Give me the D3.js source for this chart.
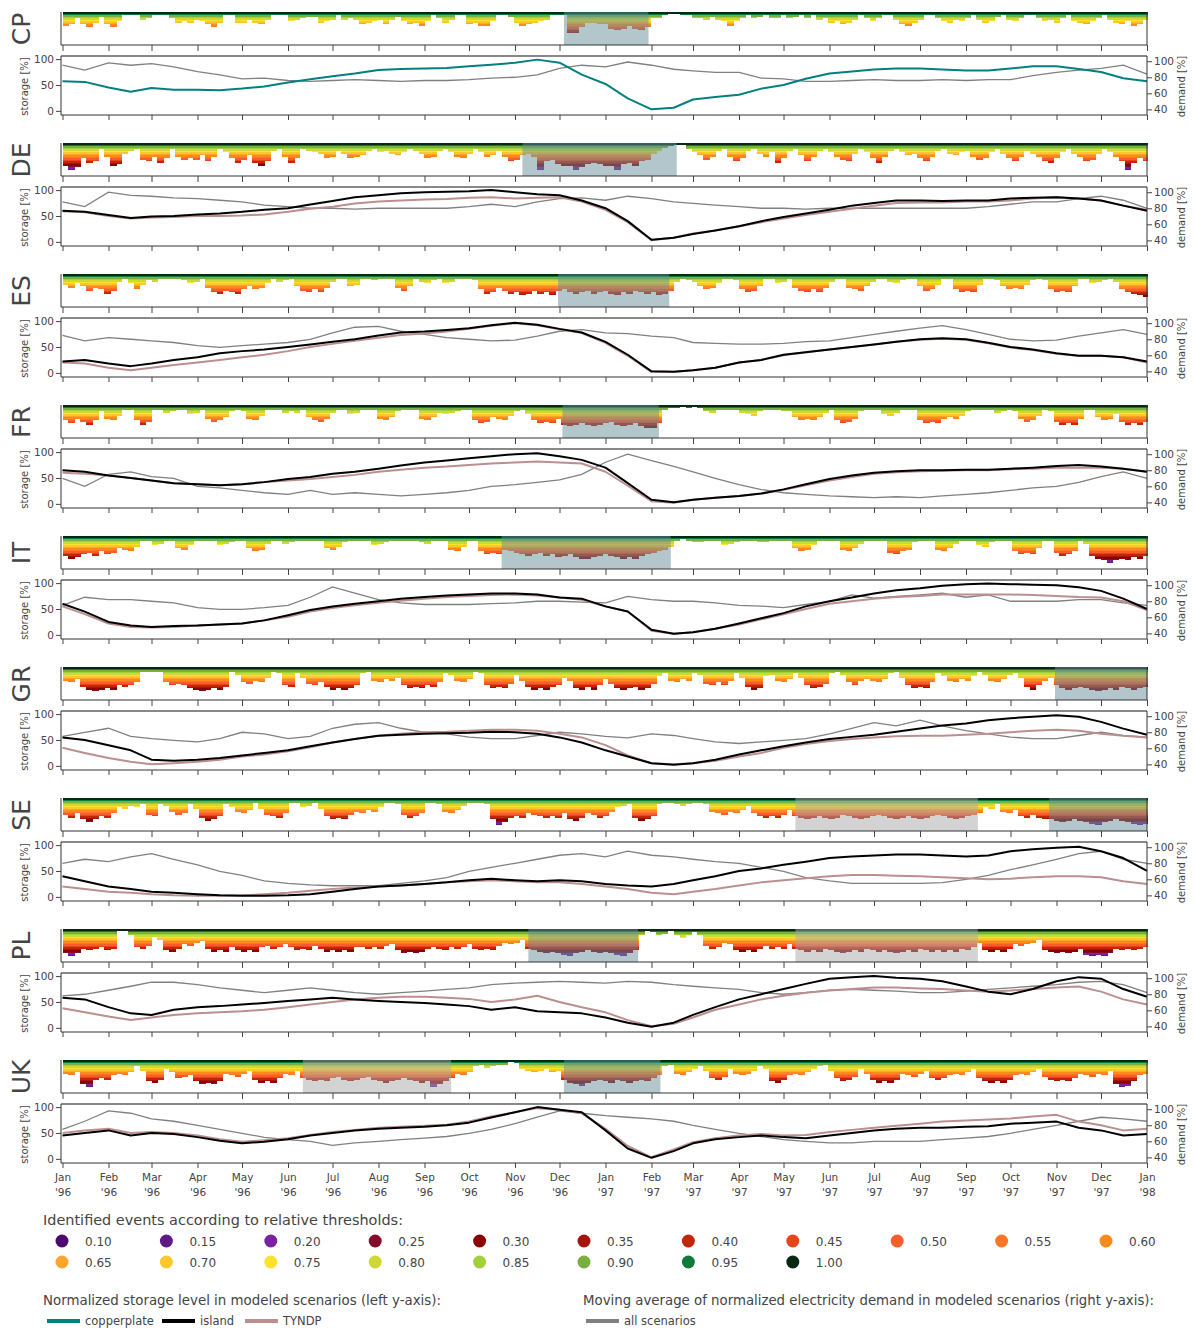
<!DOCTYPE html>
<html>
<head>
<meta charset="utf-8">
<script src="https://cdn.jsdelivr.net/npm/d3@7"></script>
<style>
  body { margin: 0; background: #fff; }
  text { font-family: "DejaVu Sans", Verdana, sans-serif; }
</style>
</head>
<body>
<svg id="chart" width="1194" height="1329"></svg>
<script>
// ---- regions and event thresholds ----
const regions = ["CP", "DE", "ES", "FR", "IT", "GR", "SE", "PL", "UK"];
const thresholdLevels = [10, 15, 20, 25, 30, 35, 40, 45, 50, 55, 60, 65, 70, 75, 80, 85, 90, 95, 100];
const thresholdColors = ["#4b0a6e", "#5e1a87", "#7a22a0", "#830d2b", "#8b0000", "#a51505", "#c42504",
  "#e8441a", "#fa5c2e", "#fe7728", "#fe8a1c", "#ffa52e", "#ffc72c", "#ffe12e", "#d0d834", "#a2d038",
  "#7ab040", "#0e7a3c", "#042a14"];

// storage and demand are sampled on the 1st and 16th of each month
const sampleDates = ["1996-01-01","1996-01-16","1996-02-01","1996-02-16","1996-03-01","1996-03-16",
  "1996-04-01","1996-04-16","1996-05-01","1996-05-16","1996-06-01","1996-06-16","1996-07-01","1996-07-16",
  "1996-08-01","1996-08-16","1996-09-01","1996-09-16","1996-10-01","1996-10-16","1996-11-01","1996-11-16",
  "1996-12-01","1996-12-16","1997-01-01","1997-01-16","1997-02-01","1997-02-16","1997-03-01","1997-03-16",
  "1997-04-01","1997-04-16","1997-05-01","1997-05-16","1997-06-01","1997-06-16","1997-07-01","1997-07-16",
  "1997-08-01","1997-08-16","1997-09-01","1997-09-16","1997-10-01","1997-10-16","1997-11-01","1997-11-16",
  "1997-12-01","1997-12-16","1998-01-01"];

// event depth: lowest relative threshold (%) flagged in each 4-day bin starting 1996-01-01
const eventBinDays = 4;

const cpEvents = [60,65,85,65,55,70,90,65,55,75,95,95,95,80,85,95,95,95,85,70,75,70,80,75,65,55,70,95,95,70,
  70,80,70,65,80,95,95,95,75,80,85,90,90,70,75,80,95,80,85,80,65,70,75,80,65,80,90,75,65,70,
  60,75,95,85,70,80,95,95,65,70,60,60,75,95,95,90,70,60,65,70,75,80,95,95,95,35,35,55,70,70,
  65,65,50,45,50,60,50,45,55,85,85,95,100,100,95,95,85,85,80,90,80,75,60,75,85,95,85,90,95,85,
  85,95,85,90,95,85,95,80,85,70,75,65,70,80,95,85,75,85,95,95,80,65,60,70,80,95,95,85,75,70,
  80,75,85,95,80,70,75,90,95,80,75,85,95,95,85,75,80,70,85,95,75,70,65,75,85,95,80,70,65,75,
  60,65,80];
const cpCopperplate = [57,56,45,37,44,41,41,40,43,47,55,61,67,72,79,81,82,83,86,89,93,99,93,70,
  52,24,3,6,22,27,31,43,50,62,72,76,80,82,82,80,78,78,82,86,86,81,75,63,57];
const cpDemand = [95,89,98,95,97,93,87,83,78,79,76,75,76,77,76,75,76,76,77,79,80,83,91,95,
  93,99,95,90,88,86,86,79,78,75,75,76,77,76,76,77,76,77,77,82,86,89,91,95,84];

const deEvents = [30,15,25,55,40,45,85,60,30,35,70,80,85,50,45,60,40,55,85,60,50,55,50,65,45,60,85,75,55,40,
  50,65,40,30,45,80,85,60,40,55,85,80,75,70,55,60,80,70,55,60,65,80,85,75,80,70,65,75,85,80,
  70,55,60,80,85,75,60,55,70,85,75,60,65,80,60,45,50,65,70,60,15,45,50,35,30,30,15,25,35,40,
  35,30,30,15,35,40,30,45,50,70,80,90,95,100,100,85,75,65,50,60,80,85,60,45,55,80,85,70,60,75,
  40,55,80,85,65,45,60,80,85,75,60,50,45,70,85,75,55,40,60,80,85,75,65,70,55,45,60,80,85,70,
  65,75,80,60,50,55,75,85,70,55,45,60,80,70,60,45,40,55,75,85,70,60,45,50,70,85,75,60,45,15,
  40,55,45];
const deIsland = [60,58,52,46,49,50,53,55,58,62,65,72,79,86,90,94,96,97,98,100,96,92,90,80,
  65,40,4,8,15,22,30,40,48,55,62,70,75,80,80,79,80,80,84,85,86,84,80,70,60];
const deTyndp = [59,57,50,45,47,48,50,50,51,53,58,64,68,74,78,80,82,83,85,86,84,85,86,78,
  62,38,3,8,16,22,30,38,45,52,58,64,70,75,76,76,78,78,80,84,86,84,80,70,62];
const deDemand = [88,82,100,96,95,93,92,90,88,84,82,80,80,79,80,80,80,80,82,85,82,88,92,93,
  90,95,92,88,86,84,82,80,80,79,80,80,80,80,80,80,80,82,85,88,88,92,95,90,80];

const esEvents = [70,60,75,65,50,60,55,40,50,80,90,75,55,70,85,80,90,90,90,90,85,75,80,90,60,45,40,50,45,40,
  55,65,55,60,75,90,80,85,90,65,50,45,55,45,60,80,90,90,65,70,90,90,85,90,90,90,60,50,65,90,
  80,75,85,90,75,80,90,90,90,85,55,40,45,60,50,40,45,35,40,50,40,45,35,50,55,45,40,45,50,40,
  45,50,40,35,45,40,50,45,40,45,35,40,50,80,90,85,80,65,55,60,75,90,90,85,55,45,50,65,90,90,
  75,80,90,60,50,45,55,45,60,80,90,90,60,55,50,65,80,90,90,80,75,85,90,90,65,50,55,70,90,90,
  55,45,50,45,70,90,90,85,65,55,60,55,70,85,90,85,55,45,50,45,65,90,90,75,80,85,90,80,55,45,
  40,35,30];
const esIsland = [22,25,18,13,18,25,30,38,42,45,50,55,60,65,72,78,80,83,86,92,97,93,85,78,
  60,35,3,2,5,10,20,25,35,40,45,50,55,60,65,67,65,58,50,45,38,33,33,30,22];
const esTyndp = [20,18,10,5,10,15,20,25,30,35,42,50,56,62,68,73,76,80,85,91,96,92,84,77,
  58,33,2,2,5,10,20,25,34,40,45,50,55,60,64,66,64,57,49,44,37,33,33,30,20];
const esDemand = [85,78,82,80,78,76,72,70,72,74,76,80,88,95,96,90,86,82,80,78,79,84,90,92,
  88,87,84,82,76,75,74,74,75,77,78,82,86,90,94,97,92,86,80,78,79,84,88,92,86];

const frEvents = [55,45,60,50,40,55,85,60,55,70,90,90,55,40,50,90,90,80,85,90,90,75,80,90,60,50,55,65,85,90,
  85,60,55,70,90,90,90,80,85,80,90,65,55,50,60,80,90,90,75,80,90,90,90,60,55,65,85,90,90,90,
  60,55,65,80,75,80,85,90,90,55,45,50,65,60,55,70,85,90,75,55,45,50,45,60,40,35,40,45,40,35,
  40,45,50,40,35,40,45,35,30,30,45,90,95,95,100,95,100,95,85,80,90,90,90,90,80,75,70,85,90,90,
  90,85,85,65,55,60,55,65,80,90,55,45,50,60,85,90,90,90,75,70,80,90,90,90,55,45,50,45,60,65,
  60,70,85,90,90,90,90,80,85,90,85,60,50,55,70,90,85,50,40,45,40,60,90,90,65,55,60,75,50,40,
  45,40,50];
const frIsland = [65,62,55,50,45,40,38,36,38,42,48,52,58,62,68,74,80,84,88,92,96,98,92,85,
  70,40,8,3,8,12,15,20,28,38,48,55,60,63,65,65,66,66,68,70,73,75,72,68,62];
const frTyndp = [60,58,55,50,45,40,38,36,38,42,45,48,52,56,62,66,70,72,75,78,80,82,80,78,
  62,35,5,2,8,12,15,20,27,36,45,52,58,61,63,64,65,65,67,68,70,70,70,68,62];
const frDemand = [70,60,75,78,72,70,60,58,55,52,50,55,50,52,50,48,50,52,55,60,62,65,68,75,
  90,100,92,85,78,70,62,56,52,50,48,47,46,47,46,48,50,52,55,58,60,65,72,78,70];

const itEvents = [40,30,35,45,50,40,55,45,50,65,60,55,70,90,90,75,80,90,90,65,60,75,90,90,90,90,75,80,85,90,
  90,65,55,60,80,90,90,80,85,90,90,90,90,90,65,60,70,85,90,90,90,90,75,80,85,90,90,90,90,90,
  85,80,90,90,90,60,55,70,90,90,55,45,50,45,60,55,50,45,40,45,50,40,45,35,40,45,35,30,30,35,
  40,45,40,35,30,35,30,40,45,50,55,60,70,90,95,90,85,85,90,90,90,75,80,85,90,90,90,85,85,90,
  90,90,90,65,55,60,75,90,90,90,90,60,55,65,80,90,90,90,90,50,45,55,60,85,90,90,90,60,55,65,
  80,90,90,90,75,70,85,90,90,90,55,45,50,45,65,90,90,50,40,45,55,90,80,40,30,25,15,25,30,25,
  35,30,40];
const itIsland = [60,45,25,18,15,17,18,20,22,28,38,48,55,60,65,70,73,76,78,80,80,78,72,70,
  55,45,10,2,5,12,22,32,42,55,65,72,80,86,90,95,98,99,98,97,96,92,85,70,50];
const itTyndp = [55,40,22,15,14,15,18,20,22,28,35,45,52,57,62,66,70,73,75,77,78,76,72,68,
  55,45,8,2,5,12,20,30,40,50,60,65,70,73,75,78,78,78,78,77,75,73,72,65,48];
const itDemand = [75,85,82,82,80,78,72,70,70,72,75,85,98,90,82,78,76,76,76,77,78,80,80,79,
  78,86,82,80,80,78,75,74,72,76,80,88,84,86,88,90,85,88,80,80,80,82,82,78,75];

const grEvents = [60,55,65,40,30,25,30,35,30,45,40,45,55,90,90,90,90,55,45,50,45,35,30,25,30,35,30,40,90,80,
  55,50,60,55,70,90,85,45,40,85,70,50,45,55,40,30,35,30,35,45,85,90,60,55,65,60,70,45,35,40,
  35,45,40,55,85,80,60,55,65,90,85,45,35,40,35,50,80,60,40,30,35,30,40,45,70,60,35,30,40,30,
  45,65,50,35,30,35,40,30,35,50,75,85,60,55,65,60,85,80,50,45,55,45,60,85,70,40,30,35,75,80,
  60,55,65,85,70,45,35,40,50,85,90,80,55,45,60,65,60,55,65,85,90,70,45,35,40,35,55,85,75,60,
  55,65,60,75,90,80,60,55,65,80,85,70,40,30,45,60,70,45,35,30,35,40,35,30,25,30,35,30,40,35,
  30,35,40];
const grIsland = [55,50,40,30,12,10,12,15,20,25,30,38,45,52,58,60,62,63,64,66,65,62,55,45,
  30,18,5,2,5,12,22,30,38,45,52,56,60,66,72,78,82,88,92,95,98,95,85,72,60];
const grTyndp = [35,25,15,8,3,5,8,12,18,22,28,36,45,52,58,62,65,66,68,70,70,68,62,55,
  40,20,5,3,5,10,18,25,35,42,48,52,55,57,58,58,60,62,65,68,70,68,62,58,55];
const grDemand = [75,80,85,75,72,70,68,72,80,78,72,75,85,90,92,85,80,78,74,72,72,76,80,78,
  75,73,78,76,72,68,66,68,70,72,78,85,92,88,95,88,82,78,74,72,72,76,80,76,74];

const seEvents = [50,40,55,35,25,35,45,40,55,75,70,80,75,85,50,45,85,80,60,50,55,85,70,40,30,35,45,85,75,60,
  55,65,90,70,50,45,40,55,90,90,75,80,90,70,45,35,40,35,50,60,55,65,60,75,90,90,85,50,40,45,
  55,90,90,85,60,55,65,80,90,90,90,85,35,15,25,40,45,40,55,50,45,40,45,40,55,35,30,40,55,50,
  40,45,60,75,80,85,40,30,35,45,85,90,90,85,80,85,90,90,85,60,55,50,60,55,65,80,55,45,40,45,
  40,50,65,45,40,35,40,45,40,35,40,50,45,40,35,40,45,50,45,40,35,40,45,40,35,40,45,50,45,40,
  35,40,45,50,55,75,70,85,60,55,65,45,40,50,40,35,35,30,25,30,35,30,25,20,15,25,30,35,30,25,
  20,15,20];
const seIsland = [40,30,20,15,10,8,5,3,2,2,3,5,10,15,20,22,25,28,32,35,32,30,32,30,
  25,22,20,25,32,40,50,55,62,68,75,78,80,82,82,80,78,80,88,92,95,97,88,75,50];
const seTyndp = [20,15,10,8,5,3,2,2,3,5,8,12,15,18,20,22,25,28,30,32,30,28,28,25,
  20,15,8,5,10,15,22,28,32,36,40,42,42,41,40,38,36,34,35,38,40,40,38,30,25];
const seDemand = [80,85,82,88,92,85,78,70,65,58,55,53,52,52,52,55,58,62,70,75,80,85,90,92,
  88,95,90,88,85,82,80,75,70,62,58,55,55,55,55,56,60,65,72,78,85,92,95,85,80];

const plEvents = [25,15,25,40,35,40,45,35,40,100,100,85,45,40,50,80,70,35,30,40,55,50,60,65,40,30,35,30,45,35,
  30,35,30,45,50,40,45,55,45,35,40,35,50,40,30,35,30,35,30,45,45,40,45,40,50,55,35,25,30,25,
  30,40,45,40,35,45,40,45,55,40,35,40,35,50,60,55,60,70,40,35,30,25,30,25,20,15,25,30,35,30,
  25,30,25,20,15,25,35,85,100,95,85,90,100,85,75,85,95,85,50,40,45,60,55,35,30,35,30,40,50,40,
  45,40,55,40,35,30,35,30,40,35,30,25,30,35,30,40,35,30,35,30,25,30,35,30,40,35,30,35,30,35,
  30,40,35,45,60,35,30,35,30,40,55,50,55,60,70,35,30,25,30,25,30,40,20,15,20,15,25,40,35,40,
  35,40,45];
const plIsland = [58,55,40,28,25,35,40,42,45,48,52,55,58,55,52,50,48,45,42,35,40,32,30,28,
  20,10,2,10,25,40,55,65,75,85,95,98,100,97,95,90,80,70,65,75,90,98,95,75,60];
const plTyndp = [38,30,22,15,20,25,28,30,32,35,40,45,50,55,58,60,60,58,56,50,55,62,50,40,
  30,15,3,8,20,35,45,55,62,68,72,75,78,78,76,75,72,70,72,75,78,80,70,55,45];
const plDemand = [78,80,85,90,95,95,92,88,85,82,85,88,85,82,80,82,84,86,88,92,94,95,96,95,
  94,96,95,92,90,88,86,82,80,82,85,86,85,84,82,82,84,86,88,90,92,95,96,92,82];

const ukEvents = [60,55,65,25,15,40,45,40,55,60,55,65,85,70,35,30,40,75,65,45,50,55,35,25,30,25,35,60,55,50,
  60,70,40,30,35,30,45,60,55,70,45,40,35,40,35,45,50,40,35,40,45,50,40,35,30,35,40,45,40,35,
  30,35,15,25,35,45,60,55,65,85,90,80,85,90,90,100,95,75,70,65,70,75,65,70,40,30,25,20,30,35,
  40,35,30,40,35,30,35,40,35,45,55,85,90,60,55,65,75,85,70,45,40,50,75,60,55,60,70,85,75,35,
  30,40,55,60,55,65,75,85,90,70,45,35,40,50,75,60,40,30,35,30,40,60,55,50,60,70,45,40,45,55,
  60,55,65,75,45,35,30,35,30,40,55,60,55,65,75,50,40,35,40,35,45,60,55,50,60,55,70,25,15,20,
  35,55,60];
const ukIsland = [45,50,55,45,50,48,42,35,30,33,38,45,50,55,58,60,62,65,70,80,90,100,95,90,
  55,20,2,15,30,38,42,45,42,40,45,50,55,58,60,60,62,63,68,70,72,60,55,45,48];
const ukTyndp = [50,55,58,50,52,50,45,38,33,36,40,46,52,56,60,62,64,66,72,82,90,98,95,88,
  58,25,3,18,32,40,45,48,45,46,52,56,60,64,68,72,74,76,78,82,85,72,65,55,58];
const ukDemand = [75,85,98,95,88,85,80,75,70,65,62,60,55,58,60,62,64,66,70,75,82,90,98,95,
  92,90,88,85,80,75,70,66,62,60,58,58,60,60,60,62,64,66,70,75,80,85,90,88,85];

// highlighted periods drawn over the event strips
const shadedPeriods = [
  ["CP", "1996-12-04", "1997-01-30", "blue"],
  ["DE", "1996-11-06", "1997-02-18", "blue"],
  ["ES", "1996-11-30", "1997-02-13", "blue"],
  ["FR", "1996-12-03", "1997-02-06", "blue"],
  ["IT", "1996-10-23", "1997-02-14", "blue"],
  ["GR", "1997-10-31", "1998-01-01", "blue"],
  ["SE", "1997-05-09", "1997-09-09", "grey"],
  ["SE", "1997-10-27", "1998-01-01", "blue"],
  ["PL", "1996-11-10", "1997-01-23", "blue"],
  ["PL", "1997-05-09", "1997-09-09", "grey"],
  ["UK", "1996-06-11", "1996-09-19", "grey"],
  ["UK", "1996-12-04", "1997-02-07", "blue"]
];

const scenarioColors = { copperplate: "#008080", island: "#000000", TYNDP: "#bc8f8f" };
const demandColor = "#808080";

const regionData = {
  CP: { events: cpEvents, demand: cpDemand, storage: [["copperplate", cpCopperplate]] },
  DE: { events: deEvents, demand: deDemand, storage: [["TYNDP", deTyndp], ["island", deIsland]] },
  ES: { events: esEvents, demand: esDemand, storage: [["TYNDP", esTyndp], ["island", esIsland]] },
  FR: { events: frEvents, demand: frDemand, storage: [["TYNDP", frTyndp], ["island", frIsland]] },
  IT: { events: itEvents, demand: itDemand, storage: [["TYNDP", itTyndp], ["island", itIsland]] },
  GR: { events: grEvents, demand: grDemand, storage: [["TYNDP", grTyndp], ["island", grIsland]] },
  SE: { events: seEvents, demand: seDemand, storage: [["TYNDP", seTyndp], ["island", seIsland]] },
  PL: { events: plEvents, demand: plDemand, storage: [["TYNDP", plTyndp], ["island", plIsland]] },
  UK: { events: ukEvents, demand: ukDemand, storage: [["TYNDP", ukTyndp], ["island", ukIsland]] }
};

// ---- drawing ----
const svg = d3.select("#chart");
const parse = d3.utcParse("%Y-%m-%d");
const t0 = Date.UTC(1996, 0, 1), t1 = Date.UTC(1998, 0, 1);
const DAY = 86400000;
const x = d3.scaleUtc().domain([new Date(t0), new Date(t1)]).range([62.5, 1147]);
const plotLeft = 61, plotRight = 1147;
const monthTicks = d3.utcMonths(new Date(t0), new Date(t1 + DAY));
const dates = sampleDates.map(parse);
const colorOf = d3.scaleOrdinal().domain(thresholdLevels).range(thresholdColors);
const bandOrder = thresholdLevels.slice().reverse();

const ROW = 131, TOP0 = 12;
const tickColor = "#444";

regions.forEach((reg, k) => {
  const d = regionData[reg];
  const top = TOP0 + ROW * k;
  const stripBottom = top + 33;
  const g = svg.append("g");

  // event strip: one stacked column per bin, from 1.00 down to the lowest flagged threshold
  const yBand = d3.scaleBand().domain(bandOrder).range([top, top + 28.5]);
  const cells = [];
  d.events.forEach((depth, i) => {
    const a = new Date(t0 + i * eventBinDays * DAY);
    const b = new Date(Math.min(t1, t0 + (i + 1) * eventBinDays * DAY));
    if (+a >= t1) return;
    bandOrder.forEach(level => { if (level >= depth) cells.push({ a, b, level }); });
  });
  g.append("g").attr("shape-rendering", "crispEdges")
    .selectAll("rect").data(cells).join("rect")
    .attr("x", c => x(c.a))
    .attr("width", c => x(c.b) - x(c.a) + 0.6)
    .attr("y", c => yBand(c.level))
    .attr("height", yBand.bandwidth() + 0.4)
    .attr("fill", c => colorOf(c.level));

  // highlighted periods
  g.append("g").selectAll("rect")
    .data(shadedPeriods.filter(p => p[0] === reg)).join("rect")
    .attr("x", p => x(parse(p[1])))
    .attr("width", p => x(parse(p[2])) - x(parse(p[1])))
    .attr("y", top)
    .attr("height", stripBottom - top)
    .attr("fill", p => p[3] === "blue" ? "#658d99" : "#a8a8a8")
    .attr("fill-opacity", 0.5);

  // strip frame and month ticks
  g.append("path")
    .attr("d", `M${plotLeft},${top}V${stripBottom}H${plotRight}V${top}`)
    .attr("fill", "none").attr("stroke", "#333").attr("stroke-width", 1);
  g.append("g").attr("transform", `translate(0,${stripBottom})`)
    .call(d3.axisBottom(x).tickValues(monthTicks).tickSize(6).tickSizeOuter(0).tickFormat(""))
    .call(a => a.select(".domain").remove())
    .call(a => a.selectAll(".tick line").attr("stroke", tickColor));

  // storage / demand panel
  const pTop = top + 44, pBot = top + 103;
  const yS = d3.scaleLinear().domain([-8, 106]).range([pBot, pTop]);
  const yD = d3.scaleLinear().domain([33, 106.5]).range([pBot, pTop]);

  const lineS = d3.line().x((v, i) => x(dates[i])).y(v => yS(v));
  const lineD = d3.line().x((v, i) => x(dates[i])).y(v => yD(v));

  g.append("path").datum(d.demand).attr("d", lineD)
    .attr("fill", "none").attr("stroke", demandColor).attr("stroke-width", 1.3);
  d.storage.forEach(([name, vals]) => {
    g.append("path").datum(vals).attr("d", lineS)
      .attr("fill", "none").attr("stroke", scenarioColors[name]).attr("stroke-width", 2)
      .attr("stroke-linejoin", "round");
  });

  // panel frame
  g.append("line").attr("x1", plotLeft).attr("x2", plotRight).attr("y1", pTop).attr("y2", pTop)
    .attr("stroke", "#888").attr("stroke-width", 2);
  g.append("path")
    .attr("d", `M${plotLeft},${pTop}V${pBot}H${plotRight}V${pTop}`)
    .attr("fill", "none").attr("stroke", "#333").attr("stroke-width", 1);

  const styleAxis = a => {
    a.select(".domain").remove();
    a.selectAll(".tick line").attr("stroke", tickColor);
    a.selectAll(".tick text").attr("fill", tickColor).style("font-size", "10.5px")
      .style("font-family", '"DejaVu Sans", Verdana, sans-serif');
  };
  g.append("g").attr("transform", `translate(${plotLeft},0)`)
    .call(d3.axisLeft(yS).tickValues([0, 50, 100]).tickSize(5).tickPadding(2))
    .call(styleAxis);
  g.append("g").attr("transform", `translate(${plotRight},0)`)
    .call(d3.axisRight(yD).tickValues([40, 60, 80, 100]).tickSize(5).tickPadding(2))
    .call(styleAxis);

  const isLast = k === regions.length - 1;
  const xAxis = d3.axisBottom(x).tickValues(monthTicks).tickSize(5).tickSizeOuter(0)
    .tickFormat(isLast ? (() => "") : "");
  const xa = g.append("g").attr("transform", `translate(0,${pBot})`).call(xAxis).call(styleAxis);
  if (isLast) {
    xa.selectAll(".tick text").each(function (dt) {
      const t = d3.select(this).text(null).attr("y", 11);
      t.append("tspan").attr("x", 0).attr("dy", "0.71em").text(d3.utcFormat("%b")(dt));
      t.append("tspan").attr("x", 0).attr("dy", "1.35em").text("'" + d3.utcFormat("%y")(dt));
    });
  }

  // labels
  g.append("text")
    .attr("transform", `translate(30,${top + 17}) rotate(-90)`)
    .attr("text-anchor", "middle").attr("fill", "#444")
    .style("font-size", "25px").text(reg);
  g.append("text")
    .attr("transform", `translate(28,${(pTop + pBot) / 2 + 1}) rotate(-90)`)
    .attr("text-anchor", "middle").attr("fill", "#444")
    .style("font-size", "10px").text("storage [%]");
  g.append("text")
    .attr("transform", `translate(1185,${(pTop + pBot) / 2 + 1}) rotate(-90)`)
    .attr("text-anchor", "middle").attr("fill", "#444")
    .style("font-size", "10px").text("demand [%]");
});

// ---- legends ----
const leg = svg.append("g");
const legendTitle = (tx, txt, len) => leg.append("text").attr("x", tx).attr("y", 1225)
  .attr("fill", "#444").style("font-size", "14px")
  .attr("textLength", len).attr("lengthAdjust", "spacingAndGlyphs").text(txt);
legendTitle(43, "Identified events according to relative thresholds:", 360);
thresholdLevels.forEach((lv, i) => {
  const row = i < 11 ? 0 : 1;
  const col = row === 0 ? i : i - 11;
  const cx = 62 + col * 104.4;
  const cy = row === 0 ? 1241 : 1262;
  leg.append("circle").attr("cx", cx).attr("cy", cy).attr("r", 6.5).attr("fill", colorOf(lv));
  leg.append("text").attr("x", cx + 23).attr("y", cy + 4.5).attr("fill", "#444").style("font-size", "12px")
    .text((lv / 100).toFixed(2));
});

legendTitle(43, "Normalized storage level in modeled scenarios (left y-axis):", 398).attr("y", 1305);
legendTitle(583, "Moving average of normalized electricity demand in modeled scenarios (right y-axis):", 571).attr("y", 1305);
const lineItems = [["copperplate", 47, scenarioColors.copperplate], ["island", 162, scenarioColors.island],
  ["TYNDP", 245, scenarioColors.TYNDP], ["all scenarios", 586, demandColor]];
lineItems.forEach(([name, lx, col]) => {
  leg.append("line").attr("x1", lx).attr("x2", lx + 33).attr("y1", 1321).attr("y2", 1321)
    .attr("stroke", col).attr("stroke-width", 4);
  leg.append("text").attr("x", lx + 38).attr("y", 1325).attr("fill", "#444").style("font-size", "11.5px").text(name);
});
</script>
</body>
</html>
